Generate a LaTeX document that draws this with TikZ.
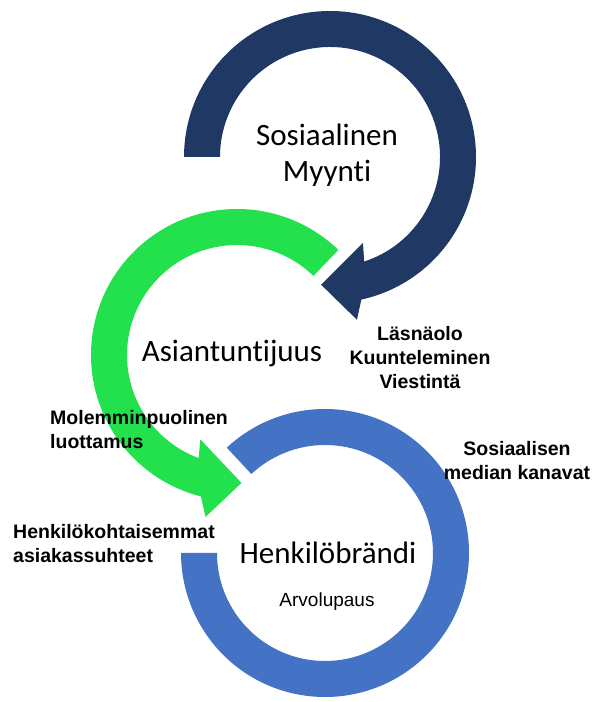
\documentclass[tikz,border=0pt]{standalone}
\usepackage{fontspec}
\setmainfont{Carlito}[Ligatures={TeX,NoCommon}]
\newfontfamily\labelfont{Liberation Sans}

\definecolor{navyring}{RGB}{32,56,100}
\definecolor{greenring}{RGB}{35,225,77}
\definecolor{bluering}{RGB}{68,114,196}

\tikzset{
  ringtext/.style={font=\fontsize{31}{36}\selectfont, align=center, inner sep=0pt},
  note/.style={font=\labelfont\bfseries\fontsize{19.5}{24}\selectfont, align=center, inner sep=0pt},
}

\begin{document}
\begin{tikzpicture}[x=1pt, y=1pt]
  \useasboundingbox (0,0) rectangle (596,702);

  % Sosiaalinen Myynti
  \begin{scope}[shift={(330,545)}]
    \fill[navyring] (180:146) arc[start angle=180, end angle=-77.6, radius=146]
      -- (-80.6:165) -- (-94:128) -- (-69:92) -- (-71.9:110)
      arc[start angle=-71.9, end angle=180, radius=110] -- cycle;
  \end{scope}

  % Asiantuntijuus
  \begin{scope}[shift={(237,347)}]
    \fill[greenring] (46:146) arc[start angle=46, end angle=255.7, radius=146]
      -- (259:165) -- (272:128) -- (246.5:92) -- (249.6:110)
      arc[start angle=249.6, end angle=46, radius=110] -- cycle;
  \end{scope}

  % Henkilobrandi
  \begin{scope}[shift={(325,149)}]
    \fill[bluering] (133:144) arc[start angle=133, end angle=-180, radius=144]
      -- (-180:108) arc[start angle=-180, end angle=133, radius=108] -- cycle;
  \end{scope}

  \node[ringtext] (myynti) at (327,547) {Sosiaalinen\\Myynti};
  \node[ringtext] (asiantuntijuus) at (232,349) {Asiantuntijuus};
  \node[ringtext] (brandi) at (328,149) {Henkilöbrändi};
  \node[font=\labelfont\fontsize{19}{23}\selectfont, inner sep=0pt] (lupaus) at (327,100) {Arvolupaus};

  \node[note] (lasnaolo) at (420,344) {Läsnäolo\\Kuunteleminen\\Viestintä};
  \node[note] (kanavat) at (517,241) {Sosiaalisen\\median kanavat};
  \node[note, align=left, anchor=west] (luottamus) at (50,272) {Molemminpuolinen\\luottamus};
  \node[note, align=left, anchor=west] (suhteet) at (13,158) {Henkilökohtaisemmat\\asiakassuhteet};
\end{tikzpicture}
\end{document}
